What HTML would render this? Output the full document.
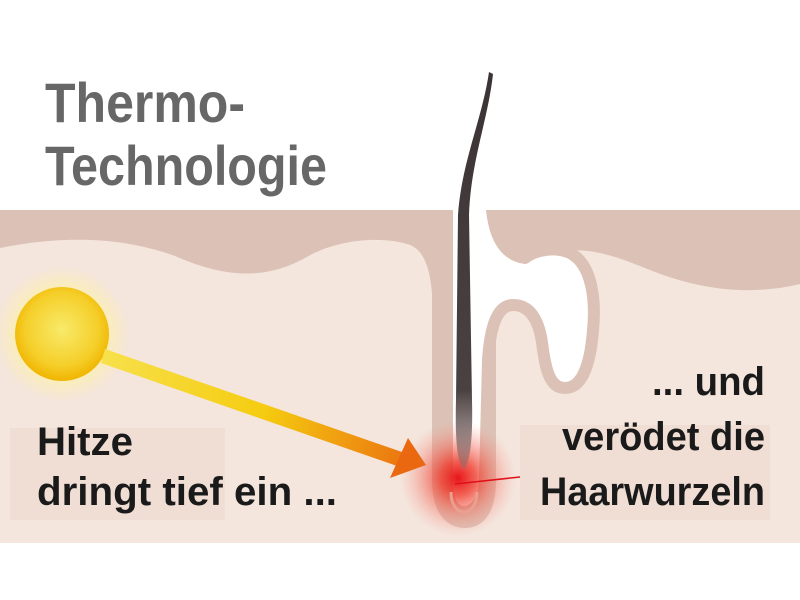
<!DOCTYPE html>
<html><head><meta charset="utf-8"><style>html,body{margin:0;padding:0;background:#fff}svg{display:block}</style></head>
<body>
<svg width="800" height="600" viewBox="0 0 800 600" xmlns="http://www.w3.org/2000/svg">
<defs>
<radialGradient id="sun" cx="0.5" cy="0.45" r="0.55">
<stop offset="0" stop-color="#f8ea6a"/><stop offset="0.7" stop-color="#f5cf2a"/><stop offset="1" stop-color="#f0b400"/></radialGradient>
<radialGradient id="sunglow"><stop offset="0.5" stop-color="#fff3a0" stop-opacity="0.9"/><stop offset="1" stop-color="#fff3a0" stop-opacity="0"/></radialGradient>
<linearGradient id="arr" x1="105" y1="355" x2="425" y2="463" gradientUnits="userSpaceOnUse">
<stop offset="0" stop-color="#f7e04a"/><stop offset="0.5" stop-color="#f5cc10"/><stop offset="1" stop-color="#ea6a10"/></linearGradient>
<radialGradient id="glow"><stop offset="0" stop-color="#e8141a"/><stop offset="0.3" stop-color="#ee3a2a" stop-opacity="0.8"/><stop offset="1" stop-color="#f7a090" stop-opacity="0"/></radialGradient>
<linearGradient id="hair" x1="0" y1="0" x2="0" y2="1"><stop offset="0" stop-color="#3c3434"/><stop offset="0.8" stop-color="#4a4242"/><stop offset="1" stop-color="#8a7070" stop-opacity="0.5"/></linearGradient>
</defs>
<rect x="0" y="210" width="800" height="333" fill="#f4e5dd"/>
<rect x="10" y="428" width="215" height="92" fill="#f0ddd3"/>
<rect x="520" y="425" width="250" height="95" fill="#f0ddd3"/>
<path d="M0,210 H450 L450,300 H433 L433,320 C433,280 428,252 410,245 C380,235 335,240 305,258 C265,280 225,278 175,256 C120,236 60,236 0,248 Z" fill="#dcc2b6"/>
<path d="M485,210 H800 V284 C750,296 700,290 650,270 C620,258 600,250 570,250 L500,260 L485,260 Z" fill="#dcc2b6"/>
<path d="M432,240 L432,480 C432,515 448,528 465,528 C482,528 496,515 496,480 L496,300 L450,240 Z" fill="#dcc2b6"/>
<path d="M447,180 H492 L492,210 C495,238 505,255 525,258 C535,250 555,246 570,253 C592,264 596,300 593,330 C590,370 580,388 565,388 C550,388 546,370 543,350 C540,320 530,305 513,305 C496,305 490,330 488,360 L485,480 C485,500 475,512 464,512 C452,512 447,500 447,480 Z" fill="#fff" stroke="#dcc2b6" stroke-width="12" stroke-linejoin="round"/>
<rect x="0" y="160" width="800" height="50" fill="#fff"/>
<circle cx="458" cy="478" r="58" fill="url(#glow)"/>
<path d="M451,492 C451,505 457,512 464,512 C471,512 477,505 477,492" fill="none" stroke="#e8a090" stroke-width="3"/>
<path d="M489,72 C482,120 462,160 458,215 L456,400 C455,440 457,462 464,470 C470,462 473,440 472,400 L469,215 C471,160 488,120 493,74 Z" fill="url(#hair)"/>
<line x1="455" y1="484" x2="520" y2="477" stroke="#e0101a" stroke-width="1.5"/>
<circle cx="62" cy="334" r="68" fill="url(#sunglow)"/>
<circle cx="62" cy="334" r="47" fill="url(#sun)"/>
<path d="M105,349 L402,452 L397,466 L101,363 Z" fill="url(#arr)"/>
<path d="M426,465 L390,478 L408,438 Z" fill="#ea6810"/>
<g font-family="'Liberation Sans Narrow','Liberation Sans',sans-serif" font-weight="bold">
<text x="45" y="122" font-size="56" fill="#676767" textLength="200" lengthAdjust="spacingAndGlyphs">Thermo-</text>
<text x="45" y="185" font-size="56" fill="#676767" textLength="282" lengthAdjust="spacingAndGlyphs">Technologie</text>
<text x="37" y="455" font-size="40" fill="#1a1a1a" textLength="96" lengthAdjust="spacingAndGlyphs">Hitze</text>
<text x="37" y="505" font-size="40" fill="#1a1a1a" textLength="300" lengthAdjust="spacingAndGlyphs">dringt tief ein ...</text>
<text x="652" y="395" font-size="40" fill="#1a1a1a" textLength="113" lengthAdjust="spacingAndGlyphs">... und</text>
<text x="562" y="450" font-size="40" fill="#1a1a1a" textLength="203" lengthAdjust="spacingAndGlyphs">verödet die</text>
<text x="540" y="505" font-size="40" fill="#1a1a1a" textLength="225" lengthAdjust="spacingAndGlyphs">Haarwurzeln</text>
</g>
</svg>
</body></html>
